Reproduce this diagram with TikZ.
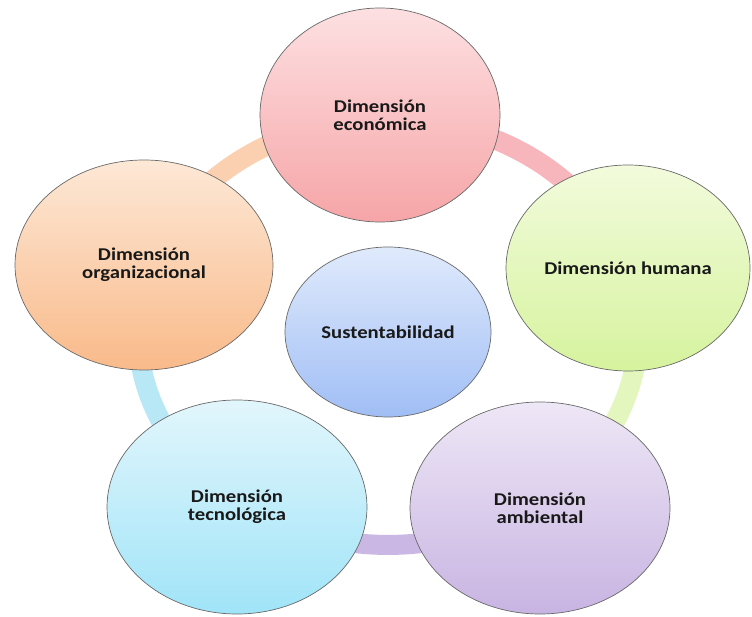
\documentclass[tikz,border=0pt]{standalone}
\usepackage{fontspec}
\setmainfont{Carlito}[FakeStretch=1.15]
\usetikzlibrary{shapes.geometric}
\definecolor{econT}{RGB}{253,224,226}\definecolor{econB}{RGB}{246,165,167}
\definecolor{orgT}{RGB}{253,232,214}\definecolor{orgB}{RGB}{249,186,138}
\definecolor{humT}{RGB}{242,251,220}\definecolor{humB}{RGB}{214,243,158}
\definecolor{tecT}{RGB}{226,246,252}\definecolor{tecB}{RGB}{160,228,248}
\definecolor{ambT}{RGB}{238,231,246}\definecolor{ambB}{RGB}{200,180,226}
\definecolor{susT}{RGB}{224,234,252}\definecolor{susB}{RGB}{160,190,245}
\definecolor{bandO}{RGB}{250,208,176}
\definecolor{bandP}{RGB}{247,182,187}
\definecolor{bandG}{RGB}{226,246,190}
\definecolor{bandV}{RGB}{202,183,228}
\definecolor{bandB}{RGB}{184,232,246}
\definecolor{edge}{RGB}{105,105,105}
\definecolor{txt}{RGB}{25,25,25}
\begin{document}
\begin{tikzpicture}[x=1pt,y=1pt,
  dim/.style={ellipse, draw=edge, line width=0.7pt, inner sep=0pt, align=center,
    text=txt, font=\fontsize{18}{18}\selectfont\bfseries},
  band/.style={line width=20pt}]
\useasboundingbox (0,0) rectangle (752,616);
\fill[white] (0,0) rectangle (752,616);
% ring coordinates
\coordinate (ao) at (150.1,349.5);
\coordinate (at) at (388,497);
\coordinate (ah) at (626.6,347.7);
\coordinate (aa) at (536.4,112.6);
\coordinate (ac) at (239.6,112.6);
\draw[band,bandO] (ao) arc[start angle=162.1, end angle=90, x radius=250pt, y radius=213pt];
\draw[band,bandP] (at) arc[start angle=90, end angle=17.4, x radius=250pt, y radius=213pt];
\draw[band,bandG] (ah) arc[start angle=17.4, end angle=-53.6, x radius=250pt, y radius=213pt];
\draw[band,bandV] (aa) arc[start angle=-53.6, end angle=-126.4, x radius=250pt, y radius=213pt];
\draw[band,bandB] (ac) arc[start angle=233.6, end angle=162.1, x radius=250pt, y radius=213pt];
% nodes
\node[dim, minimum width=240pt, minimum height=214pt, top color=econT, bottom color=econB] (econ) at (380,501) {Dimensión\\económica};
\node[dim, minimum width=258pt, minimum height=210pt, top color=orgT, bottom color=orgB] (org) at (144,351) {Dimensión\\organizacional};
\node[dim, minimum width=244pt, minimum height=206pt, top color=humT, bottom color=humB] (hum) at (628,348) {Dimensión humana};
\node[dim, minimum width=260pt, minimum height=214pt, top color=tecT, bottom color=tecB] (tec) at (237,109) {Dimensión\\tecnológica};
\node[dim, minimum width=260pt, minimum height=212pt, top color=ambT, bottom color=ambB] (amb) at (540,108) {Dimensión\\ambiental};
\node[dim, minimum width=206pt, minimum height=170pt, top color=susT, bottom color=susB] (sus) at (388,284) {Sustentabilidad};
\end{tikzpicture}
\end{document}
